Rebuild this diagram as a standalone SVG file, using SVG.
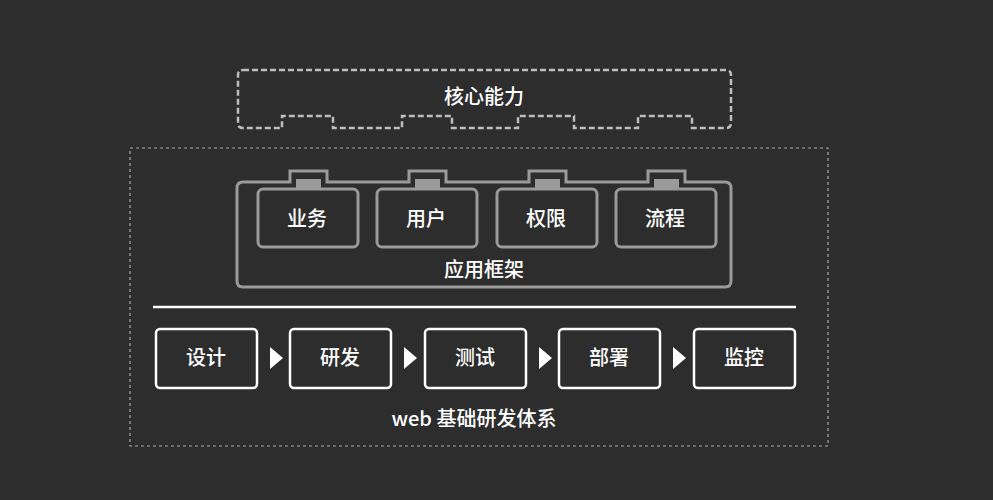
<svg xmlns="http://www.w3.org/2000/svg" width="993" height="500" viewBox="0 0 993 500">
<style>
text{font-family:"Noto Sans CJK SC","Liberation Sans",sans-serif;fill:#fff;font-size:20px;text-anchor:middle;dominant-baseline:central;font-weight:500}
.m{fill:#2d2d2d;stroke:#9a9a9a;stroke-width:3}
.b{fill:#2d2d2d;stroke:#fff;stroke-width:2.5}
.tab{fill:#9a9a9a}
.tri{fill:#fff}
</style>
<rect width="993" height="500" fill="#2d2d2d"/>
<g id="core">
<path d="M243,70 H726 Q731,70 731,75 V123 Q731,128 726,128 H692 V116 H638 V128 H574 V116 H518 V128 H452 V116 H402 V128 H333 V116 H282 V128 H243 Q238,128 238,123 V75 Q238,70 243,70 Z" fill="none" stroke="#bdbdbd" stroke-width="2.5" stroke-dasharray="6,3"/>
<text x="484" y="95">核心能力</text>
</g>
<g id="web">
<rect x="130" y="148" width="698" height="298" fill="none" stroke="#aaa" stroke-width="1.2" stroke-dasharray="3,3"/>
<text x="474" y="417">web 基础研发体系</text>
</g>
<g id="app">
<path d="M243,182 H290 V171 H327 V182 H409 V171 H446 V182 H529 V171 H566 V182 H648 V171 H685 V182 H725 Q731,182 731,188 V281 Q731,287 725,287 H243 Q237,287 237,281 V188 Q237,182 243,182 Z" class="m"/>
<text x="484" y="268">应用框架</text>
</g>
<g id="m1"><rect x="296" y="179" width="25" height="10" class="tab"/><rect x="258" y="189" width="100" height="58" rx="5" class="m"/><text x="307" y="217">业务</text></g>
<g id="m2"><rect x="415" y="179" width="25" height="10" class="tab"/><rect x="377" y="189" width="100" height="58" rx="5" class="m"/><text x="426" y="217">用户</text></g>
<g id="m3"><rect x="535" y="179" width="25" height="10" class="tab"/><rect x="497" y="189" width="100" height="58" rx="5" class="m"/><text x="546" y="217">权限</text></g>
<g id="m4"><rect x="654" y="179" width="25" height="10" class="tab"/><rect x="616" y="189" width="100" height="58" rx="5" class="m"/><text x="665" y="217">流程</text></g>
<line x1="153" y1="307" x2="796" y2="307" stroke="#fff" stroke-width="2.5"/>
<g id="s1"><rect x="156" y="329" width="101" height="59" rx="4" class="b"/><text x="206" y="356">设计</text></g>
<g id="s2"><rect x="290" y="329" width="101" height="59" rx="4" class="b"/><text x="340" y="356">研发</text></g>
<g id="s3"><rect x="425" y="329" width="101" height="59" rx="4" class="b"/><text x="475" y="356">测试</text></g>
<g id="s4"><rect x="559" y="329" width="101" height="59" rx="4" class="b"/><text x="609" y="356">部署</text></g>
<g id="s5"><rect x="694" y="329" width="101" height="59" rx="4" class="b"/><text x="744" y="356">监控</text></g>
<g id="connectors">
<polygon points="270,347 283,358 270,369" class="tri"/>
<polygon points="404,347 417,358 404,369" class="tri"/>
<polygon points="539,347 552,358 539,369" class="tri"/>
<polygon points="673,347 686,358 673,369" class="tri"/>
</g>
</svg>
